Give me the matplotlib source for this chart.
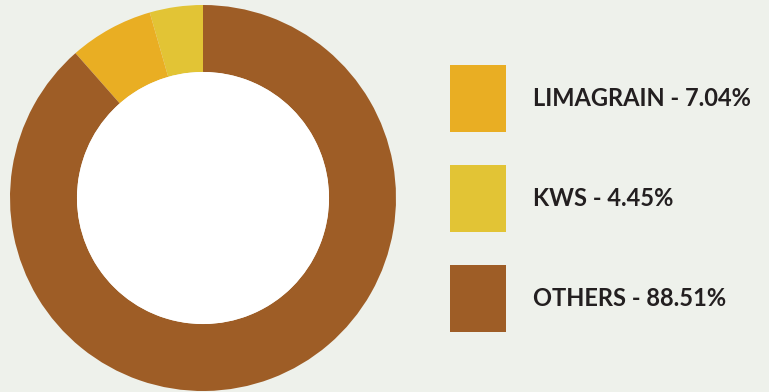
import matplotlib
matplotlib.use("Agg")
import matplotlib.pyplot as plt
from matplotlib.patches import Circle, Rectangle

# data (pie order: counterclockwise from 12 o'clock)
pie_labels = ["KWS", "LIMAGRAIN", "OTHERS"]
pie_values = [4.45, 7.04, 88.51]
pie_colors = ["#E2C435", "#E9AE23", "#9E5D26"]

legend_labels = ["LIMAGRAIN", "KWS", "OTHERS"]
legend_values = [7.04, 4.45, 88.51]
legend_colors = ["#E9AE23", "#E2C435", "#9E5D26"]

BG = "#EEF1EB"
W, H = 769, 392
fig = plt.figure(figsize=(W / 100, H / 100), dpi=100, facecolor=BG)

cx, cy, R = 203, 198, 193
ax = fig.add_axes([(cx - R) / W, (H - cy - R) / H, 2 * R / W, 2 * R / H])
ax.set_facecolor(BG)
ax.pie(pie_values, colors=pie_colors, startangle=90, counterclock=True,
       radius=1.0, wedgeprops=dict(width=0.347, linewidth=0))
ax.add_patch(Circle((0, 0), 1 - 0.347, facecolor="white", edgecolor="none", zorder=5))
ax.set_xlim(-1, 1)
ax.set_ylim(-1, 1)
ax.set_aspect("equal")
ax.axis("off")

# legend in pixel coords
lax = fig.add_axes([0, 0, 1, 1], facecolor="none")
lax.set_xlim(0, W)
lax.set_ylim(H, 0)
lax.axis("off")
tops = [65, 165, 265]
for top, lab, val, col in zip(tops, legend_labels, legend_values, legend_colors):
    lax.add_patch(Rectangle((450, top), 56, 67, facecolor=col, edgecolor="none"))
    lax.text(533, top + 33, f"{lab} - {val:.2f}%", fontsize=17, fontweight="bold",
             family="Lato", color="#231F20", va="center", ha="left")

fig.savefig("out.png", dpi=100, facecolor=BG)
